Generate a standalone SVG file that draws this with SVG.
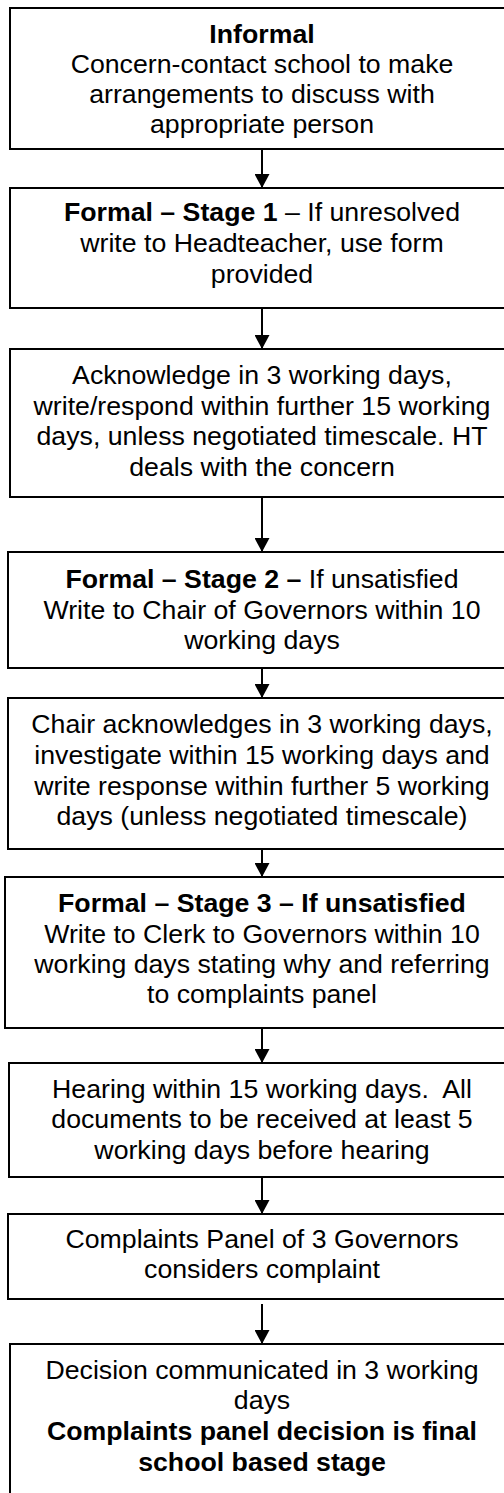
<svg xmlns="http://www.w3.org/2000/svg" width="504" height="1493" viewBox="0 0 504 1493">
<style>
.box{fill:#fff;stroke:#000;stroke-width:2}
.t{font-family:"Liberation Sans",Arial,sans-serif;font-size:26.7px;fill:#000;text-anchor:middle}
.b{font-weight:bold}
.c{stroke:#000;stroke-width:2;fill:none}
</style>
<defs>
<marker id="ah" markerUnits="userSpaceOnUse" markerWidth="15" markerHeight="15" refX="14" refY="7.5" orient="auto">
<path d="M0,0 L14,7.5 L0,15 z" fill="#000"/>
</marker>
</defs>
<rect width="504" height="1493" fill="#fff"/>
<g id="connectors">
<line class="c" x1="262" y1="149" x2="262" y2="188" marker-end="url(#ah)"/>
<line class="c" x1="262" y1="308" x2="262" y2="349" marker-end="url(#ah)"/>
<line class="c" x1="262" y1="497" x2="262" y2="552" marker-end="url(#ah)"/>
<line class="c" x1="262" y1="668" x2="262" y2="698" marker-end="url(#ah)"/>
<line class="c" x1="262" y1="849" x2="262" y2="877" marker-end="url(#ah)"/>
<line class="c" x1="262" y1="1028" x2="262" y2="1063" marker-end="url(#ah)"/>
<line class="c" x1="262" y1="1177" x2="262" y2="1214" marker-end="url(#ah)"/>
<line class="c" x1="262" y1="1304" x2="262" y2="1344" marker-end="url(#ah)"/>
</g>
<g id="n1">
<rect class="box" x="10" y="8" width="510" height="141"/>
<text class="t b" x="262" y="43">Informal</text>
<text class="t" x="262" y="73">Concern-contact school to make</text>
<text class="t" x="262" y="103">arrangements to discuss with</text>
<text class="t" x="262" y="133">appropriate person</text>
</g>
<g id="n2">
<rect class="box" x="10" y="188" width="510" height="120"/>
<text class="t" x="262" y="221"><tspan class="b">Formal – Stage 1</tspan> – If unresolved</text>
<text class="t" x="262" y="252">write to Headteacher, use form</text>
<text class="t" x="262" y="283">provided</text>
</g>
<g id="n3">
<rect class="box" x="10" y="349" width="510" height="148"/>
<text class="t" x="262" y="384">Acknowledge in 3 working days,</text>
<text class="t" x="262" y="415">write/respond within further 15 working</text>
<text class="t" x="262" y="445">days, unless negotiated timescale. HT</text>
<text class="t" x="262" y="476">deals with the concern</text>
</g>
<g id="n4">
<rect class="box" x="8" y="552" width="512" height="116"/>
<text class="t" x="262" y="588"><tspan class="b">Formal – Stage 2 –</tspan> If unsatisfied</text>
<text class="t" x="262" y="619">Write to Chair of Governors within 10</text>
<text class="t" x="262" y="649">working days</text>
</g>
<g id="n5">
<rect class="box" x="8" y="698" width="512" height="151"/>
<text class="t" x="262" y="733">Chair acknowledges in 3 working days,</text>
<text class="t" x="262" y="764">investigate within 15 working days and</text>
<text class="t" x="262" y="795">write response within further 5 working</text>
<text class="t" x="262" y="825">days (unless negotiated timescale)</text>
</g>
<g id="n6">
<rect class="box" x="5" y="877" width="515" height="151"/>
<text class="t b" x="262" y="912">Formal – Stage 3 – If unsatisfied</text>
<text class="t" x="262" y="943">Write to Clerk to Governors within 10</text>
<text class="t" x="262" y="973">working days stating why and referring</text>
<text class="t" x="262" y="1003">to complaints panel</text>
</g>
<g id="n7">
<rect class="box" x="9" y="1063" width="511" height="114"/>
<text class="t" x="262" y="1098" xml:space="preserve">Hearing within 15 working days.  All</text>
<text class="t" x="262" y="1128">documents to be received at least 5</text>
<text class="t" x="262" y="1159">working days before hearing</text>
</g>
<g id="n8">
<rect class="box" x="8" y="1214" width="512" height="85"/>
<text class="t" x="262" y="1248">Complaints Panel of 3 Governors</text>
<text class="t" x="262" y="1278">considers complaint</text>
</g>
<g id="n9">
<rect class="box" x="10" y="1344" width="510" height="160"/>
<text class="t" x="262" y="1379">Decision communicated in 3 working</text>
<text class="t" x="262" y="1409">days</text>
<text class="t b" x="262" y="1440">Complaints panel decision is final</text>
<text class="t b" x="262" y="1471">school based stage</text>
</g>
</svg>
